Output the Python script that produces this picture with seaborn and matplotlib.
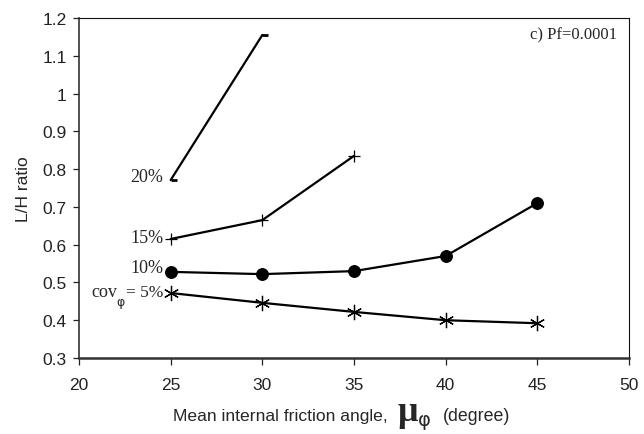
import matplotlib
matplotlib.use("Agg")
import matplotlib.pyplot as plt
import seaborn as sns
import pandas as pd

# ---- data ----
angle_5 = [25, 30, 35, 40, 45]
lh_5 = [0.472, 0.446, 0.422, 0.400, 0.392]
angle_10 = [25, 30, 35, 40, 45]
lh_10 = [0.528, 0.522, 0.530, 0.570, 0.710]
angle_15 = [25, 30, 35]
lh_15 = [0.615, 0.665, 0.835]
angle_20 = [25, 30]
lh_20 = [0.771, 1.155]

x_ticks = [20, 25, 30, 35, 40, 45, 50]
y_ticks = [0.3, 0.4, 0.5, 0.6, 0.7, 0.8, 0.9, 1.0, 1.1, 1.2]
y_ticklabels = ["0.3", "0.4", "0.5", "0.6", "0.7", "0.8", "0.9", "1", "1.1", "1.2"]

sns.set_style("ticks")
plt.rcParams["font.family"] = ["Liberation Sans", "DejaVu Sans"]

fig = plt.figure(figsize=(6.44, 4.35), dpi=100)
ax = fig.add_axes([79/644, 1-359/435, 550/644, 340/435])

series = [
    (angle_5, lh_5, dict(marker=(6, 2, 0), markersize=11, markeredgewidth=0.9)),
    (angle_10, lh_10, dict(marker="o", markersize=8.5)),
    (angle_15, lh_15, dict(marker="+", markersize=9, markeredgewidth=0.9)),
    (angle_20, lh_20, dict(marker=[(0, 0), (1, 0)], markersize=9, markeredgewidth=2)),
]
for xs, ys, kw in series:
    df = pd.DataFrame({"angle": xs, "lh": ys})
    sns.lineplot(data=df, x="angle", y="lh", ax=ax, color="black", lw=1.6,
                 estimator=None, sort=False, markeredgecolor="black",
                 markerfacecolor="black", **kw)

ax.set_xlim(20, 50)
ax.set_ylim(0.3, 1.2)
ax.set_xticks(x_ticks)
ax.set_xticklabels([str(v) for v in x_ticks])
ax.set_yticks(y_ticks)
ax.set_yticklabels(y_ticklabels)
ax.tick_params(axis="both", labelsize=12.5, colors="#222222", length=4, width=0.9, pad=5)
ax.tick_params(axis="x", length=5, pad=9)

for s in ["left", "bottom"]:
    ax.spines[s].set_color("#333333")
ax.spines["left"].set_linewidth(1.2)
ax.spines["bottom"].set_linewidth(1.8)
for s in ["top", "right"]:
    ax.spines[s].set_visible(True)
    ax.spines[s].set_color("#111111")
    ax.spines[s].set_linewidth(0.8)

ax.set_xlabel("")
ax.set_ylabel("L/H ratio", fontsize=12.5, labelpad=8)

# x label built from pieces
fig.text(173/644, 1-421/435, "Mean internal friction angle,", fontsize=12.6,
         ha="left", va="baseline")
fig.text(398/644, 1-421/435, "\u03bc", fontsize=26, fontweight="bold",
         family=["Liberation Serif", "DejaVu Serif"], ha="left", va="baseline")
fig.text(418/644, 1-426/435, "\u03c6", fontsize=14, family=["DejaVu Sans"],
         ha="left", va="baseline")
fig.text(443/644, 1-421/435, "(degree)", fontsize=12.8, ha="left", va="baseline")

serif = ["Liberation Serif", "DejaVu Serif"]

def txt(px, py, s, size=13, ha="left", fam=serif):
    fig.text(px/644, 1-py/435, s, fontsize=size, family=fam, ha=ha, va="baseline")

txt(130, 182, "20%")
txt(130, 243, "15%")
txt(130, 273, "10%")
txt(91, 297, "cov")
txt(116, 306, "\u03c6", size=9, fam=["DejaVu Sans"])
txt(126, 297, "= 5%", size=12.5)
txt(617, 39, "c) Pf=0.0001", size=12, ha="right")

fig.savefig("out.png", dpi=100)
